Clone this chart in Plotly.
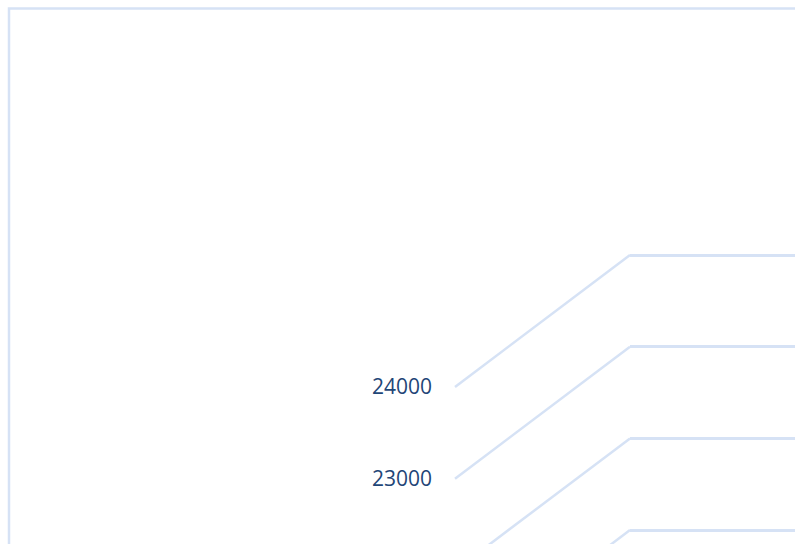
import plotly.graph_objects as go

# value axis of the 3D column chart (only this corner is visible)
tick_values = [21000, 22000, 23000, 24000]
tick_labels = ["21000", "22000", "23000", "24000"]

W, H = 795, 544

# layout constants (pixels)
FRONT_Y_24000 = 387      # where 24000 sits on the front (side wall) edge
PX_PER_1000 = 91.7       # vertical scale of the value axis
DEPTH_PX = 132           # vertical shift between front edge and back wall
FRONT_X = 455            # side wall front edge
BACK_X = 630             # back wall left edge
LABEL_AXIS_X = 432
BORDER_X, BORDER_Y = 9, 8.5

GRID_COLOR = "#d6e2f5"
LABEL_COLOR = "#1f4677"

units_per_px = 1000 / PX_PER_1000
y_top = 24000 + FRONT_Y_24000 * units_per_px
y_bottom = 24000 - (H - FRONT_Y_24000) * units_per_px
depth_units = DEPTH_PX * units_per_px

fig = go.Figure()

# empty traces so both subplots (front labels / back wall grid) exist
fig.add_trace(go.Scatter(x=[], y=[], xaxis="x", yaxis="y", showlegend=False))
fig.add_trace(go.Scatter(x=[], y=[], xaxis="x2", yaxis="y2", showlegend=False))

# side wall grid segments, front edge -> back wall
for v in tick_values:
    fig.add_shape(
        type="line",
        xref="paper",
        yref="y",
        x0=FRONT_X / W,
        x1=BACK_X / W,
        y0=v,
        y1=v + depth_units,
        line=dict(color=GRID_COLOR, width=2.5),
        layer="below",
    )

# chart border
fig.add_shape(
    type="rect",
    xref="paper",
    yref="paper",
    x0=BORDER_X / W,
    x1=1.05,
    y0=-0.05,
    y1=1 - BORDER_Y / H,
    line=dict(color=GRID_COLOR, width=2.5),
    layer="below",
)

fig.update_layout(
    width=W,
    height=H,
    margin=dict(l=0, r=0, t=0, b=0),
    paper_bgcolor="white",
    plot_bgcolor="rgba(0,0,0,0)",
    showlegend=False,
    font=dict(family="Open Sans", color=LABEL_COLOR, size=21),
    xaxis=dict(domain=[0, 1], range=[0, 1], visible=False, fixedrange=True),
    yaxis=dict(
        anchor="free",
        position=LABEL_AXIS_X / W,
        range=[y_bottom, y_top],
        tickvals=tick_values,
        ticktext=tick_labels,
        showgrid=False,
        zeroline=False,
        showline=False,
        ticks="",
        tickfont=dict(family="Open Sans", size=21, color=LABEL_COLOR),
        fixedrange=True,
    ),
    xaxis2=dict(
        domain=[BACK_X / W, 1],
        range=[0, 1],
        anchor="y2",
        visible=False,
        fixedrange=True,
    ),
    yaxis2=dict(
        anchor="x2",
        overlaying="y",
        range=[y_bottom - depth_units, y_top - depth_units],
        tickvals=tick_values,
        showticklabels=False,
        showgrid=True,
        gridcolor=GRID_COLOR,
        gridwidth=2.5,
        zeroline=False,
        showline=False,
        ticks="",
        fixedrange=True,
    ),
)

# figure fills the whole window
fig.write_html(
    "out.html",
    config={"displayModeBar": False},
    default_width=f"{W}px",
    default_height=f"{H}px",
    post_script="document.body.style.margin='0';document.documentElement.style.overflow='hidden';",
)
